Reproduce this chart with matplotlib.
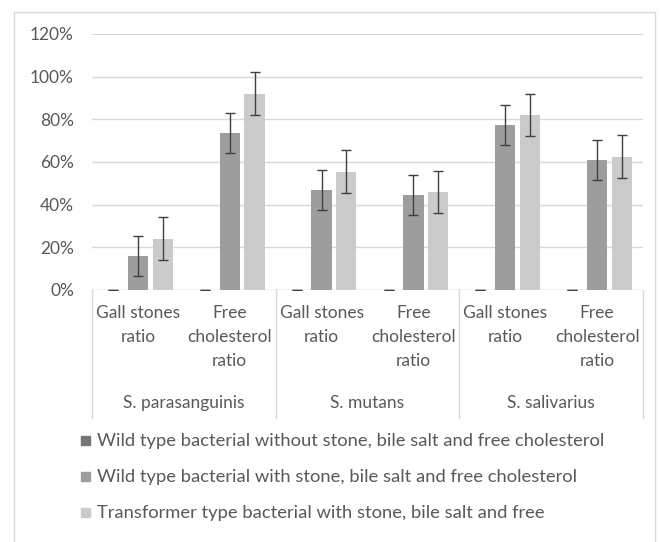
import numpy as np
import matplotlib
matplotlib.use('Agg')
import matplotlib.pyplot as plt
from matplotlib.patches import Rectangle
import matplotlib.transforms as mtransforms

# data (percent)
groups = ['S. parasanguinis', 'S. mutans', 'S. salivarius']
categories = ['Gall stones\nratio', 'Free\ncholesterol\nratio'] * 3
series_names = ['Wild type bacterial without stone, bile salt and free cholesterol',
                'Wild type bacterial with stone, bile salt and free cholesterol',
                'Transformer type bacterial with stone, bile salt and free']
wild_without = [0, 0, 0, 0, 0, 0]
wild_with = [16, 73.5, 47, 44.5, 77.5, 61]
transformer = [24, 92, 55.5, 46, 82, 62.5]
err_without = [0, 0, 0, 0, 0, 0]
err_with = [9.3, 9.3, 9.3, 9.3, 9.3, 9.3]
err_transformer = [10, 10, 10, 10, 10, 10]

colors = ['#767676', '#9d9d9d', '#cbcbcb']
text_col = '#595959'
grid_col = '#d9d9d9'
fs = 12.5

plt.rcParams['font.family'] = ['Lato', 'DejaVu Sans']

fig = plt.figure(figsize=(6.6, 5.42), dpi=100)
W, H = 660, 542
ax = fig.add_axes([92 / W, 1 - 290 / H, 551 / W, 256 / H])

x = np.arange(len(categories))
off = 0.27
bw = 0.22
all_vals = [wild_without, wild_with, transformer]
all_errs = [err_without, err_with, err_transformer]
for i, (vals, errs) in enumerate(zip(all_vals, all_errs)):
    ax.bar(x + (i - 1) * off, vals, bw, color=colors[i], zorder=3, label=series_names[i])
    ax.errorbar(x + (i - 1) * off, vals, yerr=errs, fmt='none', ecolor='#3f3f3f',
                elinewidth=1, capsize=3.5, capthick=1, zorder=4)

ax.set_xlim(-0.5, len(categories) - 0.5)
ax.set_ylim(0, 120)
ax.set_yticks(np.arange(0, 121, 20))
ax.set_yticklabels([f'{v}%' for v in range(0, 121, 20)])
ax.tick_params(axis='y', length=0, pad=13, labelsize=fs, labelcolor=text_col)
ax.set_xticks([])
ax.grid(axis='y', color=grid_col, lw=1, zorder=0)
for s in ax.spines.values():
    s.set_visible(False)
ax.axhline(0, color=grid_col, lw=1, zorder=2)

# two-level category axis
trans = mtransforms.blended_transform_factory(ax.transData, ax.transAxes)
for b in [-0.5, 1.5, 3.5, 5.5]:
    ax.plot([b, b], [0, -0.5], transform=trans, color=grid_col, lw=1, clip_on=False)
for xi, lab in zip(x, categories):
    ax.text(xi, -0.06, lab, transform=trans, ha='center', va='top',
            fontsize=fs, color=text_col, linespacing=1.6, multialignment='center')
for gi, g in enumerate(groups):
    ax.text(gi * 2 + 0.5, -0.44, g, transform=trans, ha='center', va='center',
            fontsize=fs, color=text_col)

# legend
for i, name in enumerate(series_names):
    yy = 441 + i * 36
    fig.patches.append(Rectangle((81 / W, 1 - (yy + 4) / H), 9 / W, 9 / H,
                                 transform=fig.transFigure, color=colors[i]))
    fig.text(97 / W, 1 - yy / H, name, ha='left', va='center', fontsize=13.2, color=text_col)

# chart border
fig.patches.append(Rectangle((14 / W, -0.05), 641 / W, 1.05 - 12 / H, transform=fig.transFigure,
                             fill=False, edgecolor=grid_col, lw=1))

fig.savefig('out.png', dpi=100)
